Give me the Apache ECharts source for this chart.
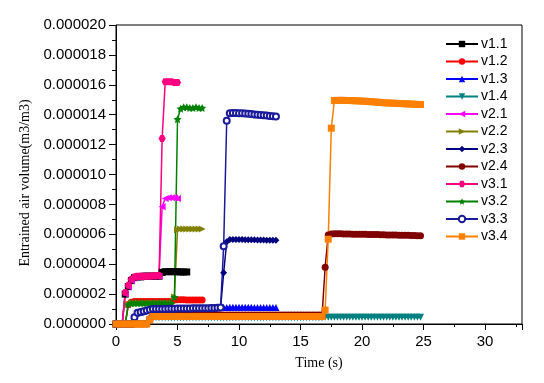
<!DOCTYPE html>
<html>
<head>
<meta charset="utf-8">
<script src="https://cdn.jsdelivr.net/npm/echarts@6/dist/echarts.min.js"></script>
<style>html,body{margin:0;padding:0;background:#fff}#c{width:544px;height:383px}</style>
</head>
<body>
<div id="c"></div>
<script>
// Time samples (s)
const times = [
0,0.25,0.5,0.75,1,1.25,1.5,1.75,2,2.25,
2.5,2.75,3,3.25,3.5,3.75,4,4.25,4.5,4.75,
5,5.25,5.5,5.75,6,6.25,6.5,6.75,7,7.25,
7.5,7.75,8,8.25,8.5,8.75,9,9.25,9.5,9.75,
10,10.25,10.5,10.75,11,11.25,11.5,11.75,12,12.25,
12.5,12.75,13,13.25,13.5,13.75,14,14.25,14.5,14.75,
15,15.25,15.5,15.75,16,16.25,16.5,16.75,17,17.25,
17.5,17.75,18,18.25,18.5,18.75,19,19.25,19.5,19.75,
20,20.25,20.5,20.75,21,21.25,21.5,21.75,22,22.25,
22.5,22.75,23,23.25,23.5,23.75,24,24.25,24.5,24.75];

// Values in units of 1e-6 m3/m3
const UNIT = 1e-6;
const v11 = [
0,0,0,2.0,2.5,2.9,3.1,3.15,3.15,3.2,
3.2,3.2,3.2,3.2,3.2,3.45,3.5,3.5,3.5,3.5,
3.5,3.48,3.48,3.48];
const v12 = [
0,0,0,0,1.3,1.45,1.5,1.5,1.5,1.5,
1.5,1.5,1.5,1.5,1.5,1.5,1.5,1.5,1.5,1.6,
1.62,1.62,1.62,1.6,1.6,1.6,1.6,1.6,1.6];
const v13 = [
0,0,0,0,0,0,0.45,0.75,0.8,0.85,
0.9,0.95,1.0,1.0,1.0,1.0,1.0,1.02,1.02,1.02,
1.03,1.03,1.04,1.04,1.04,1.05,1.05,1.05,1.06,1.06,
1.06,1.07,1.07,1.08,1.1,1.1,1.1,1.12,1.12,1.12,
1.12,1.12,1.12,1.12,1.12,1.1,1.1,1.1,1.1,1.1,
1.1,1.1,1.1];
const v14 = [
0,0,0,0,0,0,0,0,0,0,
0,0.3,0.4,0.42,0.42,0.42,0.42,0.42,0.42,0.42,
0.42,0.42,0.42,0.42,0.42,0.42,0.42,0.42,0.42,0.42,
0.42,0.42,0.42,0.42,0.42,0.42,0.42,0.42,0.42,0.42,
0.42,0.42,0.42,0.42,0.42,0.42,0.42,0.42,0.42,0.42,
0.42,0.42,0.42,0.42,0.42,0.42,0.42,0.42,0.42,0.42,
0.42,0.42,0.42,0.42,0.42,0.42,0.42,0.42,0.45,0.45,
0.45,0.45,0.45,0.45,0.45,0.45,0.45,0.45,0.45,0.45,
0.45,0.45,0.45,0.45,0.45,0.45,0.45,0.45,0.45,0.45,
0.45,0.45,0.45,0.45,0.45,0.45,0.45,0.45,0.45,0.45];
const v21 = [
0,0,0,2.0,2.5,2.9,3.1,3.15,3.15,3.2,
3.2,3.2,3.2,3.2,3.2,7.85,8.4,8.45,8.45,8.45,
8.4];
const v22 = [
0,0,0,0,1.3,1.4,1.4,1.4,1.4,1.4,
1.4,1.4,1.4,1.4,1.4,1.4,1.4,1.4,1.4,1.8,
6.3,6.35,6.35,6.35,6.35,6.35,6.35,6.35,6.35];
const v23 = [
0,0,0,0,0,0,0.45,0.75,0.8,0.85,
0.9,0.95,1.0,1.0,1.0,1.0,1.0,1.02,1.02,1.02,
1.03,1.03,1.04,1.04,1.04,1.05,1.05,1.05,1.06,1.06,
1.06,1.07,1.07,1.08,1.1,3.43,5.5,5.65,5.66,5.66,
5.65,5.65,5.64,5.64,5.63,5.63,5.62,5.62,5.62,5.61,
5.61,5.6,5.6];
const v24 = [
0,0,0,0,0,0,0,0,0,0,
0,0.35,0.6,0.6,0.6,0.6,0.6,0.6,0.6,0.6,
0.6,0.6,0.6,0.6,0.6,0.6,0.6,0.6,0.6,0.6,
0.6,0.6,0.6,0.6,0.6,0.6,0.6,0.6,0.6,0.6,
0.6,0.6,0.6,0.6,0.6,0.6,0.6,0.6,0.6,0.6,
0.6,0.6,0.6,0.6,0.6,0.6,0.6,0.6,0.6,0.6,
0.6,0.6,0.6,0.6,0.6,0.6,0.6,0.6,3.8,5.95,
6.02,6.03,6.03,6.03,6.02,6.02,6.02,6.01,6.01,6.0,
6.0,6.0,5.99,5.99,5.98,5.98,5.97,5.97,5.96,5.96,
5.95,5.95,5.94,5.94,5.93,5.93,5.92,5.92,5.9,5.9];
const v31 = [
0,0,0,2.1,2.6,3.0,3.15,3.2,3.2,3.2,
3.2,3.2,3.22,3.22,3.25,12.4,16.2,16.2,16.2,16.15,
16.15];
const v32 = [
0,0,0,0,1.3,1.4,1.4,1.4,1.4,1.4,
1.4,1.4,1.4,1.4,1.4,1.4,1.4,1.4,1.4,1.8,
13.7,14.4,14.5,14.5,14.45,14.45,14.5,14.45,14.45];
const v33 = [
0,0,0,0,0,0,0.45,0.75,0.8,0.85,
0.9,0.95,1.0,1.0,1.0,1.0,1.0,1.02,1.02,1.02,
1.03,1.03,1.04,1.04,1.04,1.05,1.05,1.05,1.06,1.06,
1.06,1.07,1.07,1.08,1.1,5.2,13.6,14.1,14.12,14.12,
14.1,14.1,14.08,14.06,14.04,14.02,14.0,13.98,13.96,13.94,
13.92,13.9,13.88];
const v34 = [
0,0,0,0,0,0,0,0,0,0,
0,0.3,0.5,0.5,0.5,0.5,0.5,0.5,0.5,0.5,
0.5,0.5,0.5,0.5,0.5,0.5,0.5,0.5,0.5,0.5,
0.5,0.5,0.5,0.5,0.5,0.5,0.5,0.5,0.5,0.5,
0.5,0.5,0.5,0.5,0.5,0.5,0.5,0.5,0.5,0.5,
0.5,0.5,0.5,0.5,0.5,0.5,0.5,0.5,0.5,0.5,
0.5,0.5,0.5,0.5,0.5,0.5,0.5,0.5,0.93,5.67,
13.1,14.95,14.96,14.96,14.96,14.95,14.95,14.94,14.93,14.92,
14.91,14.9,14.88,14.87,14.85,14.84,14.82,14.8,14.79,14.78,
14.77,14.76,14.75,14.74,14.73,14.72,14.71,14.7,14.69,14.68];

const names = ['v1.1','v1.2','v1.3','v1.4','v2.1','v2.2','v2.3','v2.4','v3.1','v3.2','v3.3','v3.4'];
const values = [v11,v12,v13,v14,v21,v22,v23,v24,v31,v32,v33,v34];
const xTicks = [0,5,10,15,20,25,30];

const STAR = 'path://M0,-10L2.94,-4.05L9.51,-3.09L4.76,1.55L5.88,8.09L0,5L-5.88,8.09L-4.76,1.55L-9.51,-3.09L-2.94,-4.05Z';
const HEX = 'path://M-5,0L-2.5,-4.33L2.5,-4.33L5,0L2.5,4.33L-2.5,4.33Z';
const styles = [
  {c:'#000000', s:'rect', r:0, z:7},
  {c:'#FF0000', s:'circle', r:0, z:7},
  {c:'#0000FF', s:'triangle', r:0, z:7},
  {c:'#008080', s:'triangle', r:180, z:7},
  {c:'#FF00FF', s:'triangle', r:90, z:7},
  {c:'#808000', s:'triangle', r:-90, z:7},
  {c:'#000080', s:'diamond', r:0, z:7},
  {c:'#800000', s:'circle', r:0, z:7},
  {c:'#FF0080', s:HEX, r:0, z:7},
  {c:'#008000', s:STAR, r:0, z:8},
  {c:'#1A1A9A', s:'emptyCircle', r:0, z:6},
  {c:'#FF8000', s:'rect', r:0, z:7}
];

const series = names.map((n, k) => ({
  name: n,
  type: 'line',
  xAxisIndex: 0,
  data: values[k].map((v, i) => [times[i], v * UNIT]),
  symbol: styles[k].s,
  symbolRotate: styles[k].r,
  symbolSize: styles[k].z,
  showAllSymbol: true,
  lineStyle: {color: styles[k].c, width: 1.5},
  itemStyle: {color: styles[k].c, borderColor: styles[k].c, borderWidth: styles[k].s === 'emptyCircle' ? 1.3 : 0},
  emphasis: {disabled: true}
}));

const chart = echarts.init(document.getElementById('c'), null, {renderer: 'canvas'});
chart.setOption({
  animation: false,
  backgroundColor: '#fff',
  grid: {left: 116, right: 22, top: 25, bottom: 59, show: true, borderColor: '#000', borderWidth: 1, backgroundColor: 'transparent'},
  legend: {
    orient: 'vertical', left: 445, top: 37, padding: 0,
    itemWidth: 32, itemHeight: 8, itemGap: 3.5,
    data: names,
    textStyle: {fontFamily: 'Liberation Sans', fontSize: 14, color: '#000', padding: [0, 0, 0, -2]}
  },
  xAxis: [{
    type: 'value', min: 0, max: 33, interval: 5,
    name: 'Time (s)', nameLocation: 'middle', nameGap: 32,
    nameTextStyle: {fontFamily: 'Liberation Serif', fontSize: 14, color: '#000'},
    axisLine: {show: true, lineStyle: {color: '#000', width: 1}},
    axisTick: {show: true, length: 6, lineStyle: {color: '#000'}},
    axisLabel: {fontFamily: 'Liberation Sans', fontSize: 15, color: '#000', margin: 10,
      formatter: v => (xTicks.indexOf(v) >= 0 ? String(v) : '')},
    splitLine: {show: false}
  }, {
    type: 'value', min: 0, max: 33, interval: 2.5, position: 'bottom',
    axisLine: {show: false},
    axisTick: {show: true, length: 3, lineStyle: {color: '#000'}},
    axisLabel: {show: false},
    splitLine: {show: false}
  }],
  yAxis: {
    type: 'value', min: 0, max: 0.00002, interval: 0.000002,
    name: 'Entrained air volume(m3/m3)', nameLocation: 'middle', nameGap: 84,
    nameTextStyle: {fontFamily: 'Liberation Serif', fontSize: 14, color: '#000', padding: [0, 17, 0, 0]},
    axisLine: {show: true, lineStyle: {color: '#000', width: 1}},
    axisTick: {show: true, length: 7, lineStyle: {color: '#000'}},
    minorTick: {show: true, splitNumber: 2, length: 4, lineStyle: {color: '#000'}},
    axisLabel: {fontFamily: 'Liberation Sans', fontSize: 15, color: '#000', margin: 10,
      formatter: v => v.toFixed(6)},
    splitLine: {show: false}
  },
  series: series
});
</script>
</body>
</html>
